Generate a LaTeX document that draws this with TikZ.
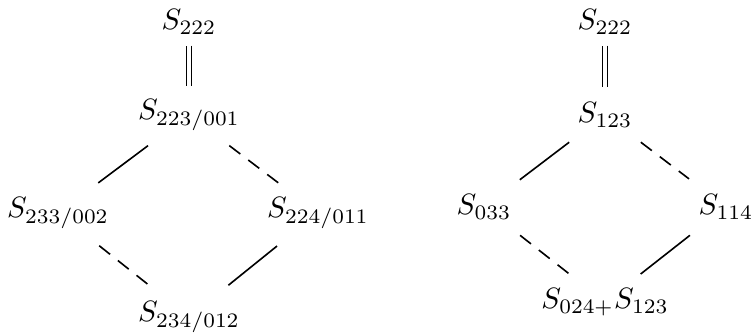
\documentclass[tikz,border=0pt]{standalone}
\begin{document}
\begin{tikzpicture}[x=0.34pt,y=-0.34pt,
  lbl/.style={inner sep=0pt},
  conn/.style={line width=0.55pt},
  dsh/.style={conn,dash pattern=on 4.7pt off 3.4pt},
  eqline/.style={line width=0.65pt,double distance=1.05pt}]
\useasboundingbox (0,0) rectangle (752,336);
% left diagram
\node[lbl] (a1) at (189,22) {$S_{222}$};
\node[lbl] (b1) at (189,115) {$S_{223/001}$};
\node[lbl] (c1) at (58,213) {$S_{233/002}$};
\node[lbl] (e1) at (318,213) {$S_{224/011}$};
\node[lbl] (d1) at (189,317) {$S_{234/012}$};
\draw[eqline,shorten <=3.7pt,shorten >=4.4pt] (a1.south) -- (b1.north);
\draw[conn,shorten <=17.4pt,shorten >=17.1pt] (b1.center) -- (c1.center);
\draw[dsh,shorten <=17.2pt,shorten >=16.8pt] (b1.center) -- (e1.center);
\draw[dsh,shorten <=17.9pt,shorten >=17.2pt] (c1.center) -- (d1.center);
\draw[conn,shorten <=17.9pt,shorten >=17.2pt] (e1.center) -- (d1.center);
% right diagram
\node[lbl] (a2) at (605,22) {$S_{222}$};
\node[lbl] (b2) at (605,115) {$S_{123}$};
\node[lbl] (c2) at (484,207) {$S_{033}$};
\node[lbl] (e2) at (726,207) {$S_{114}$};
\node[lbl] (d2) at (605,302) {$S_{024+}S_{123}$};
\draw[eqline,shorten <=3.7pt,shorten >=5.3pt] (a2.south) -- (b2.north);
\draw[conn,shorten <=15.3pt,shorten >=15.3pt] (b2.center) -- (c2.center);
\draw[dsh,shorten <=15.3pt,shorten >=15.8pt] (b2.center) -- (e2.center);
\draw[dsh,shorten <=15.6pt,shorten >=15.4pt] (c2.center) -- (d2.center);
\draw[conn,shorten <=15.6pt,shorten >=15.4pt] (e2.center) -- (d2.center);
\end{tikzpicture}
\end{document}
